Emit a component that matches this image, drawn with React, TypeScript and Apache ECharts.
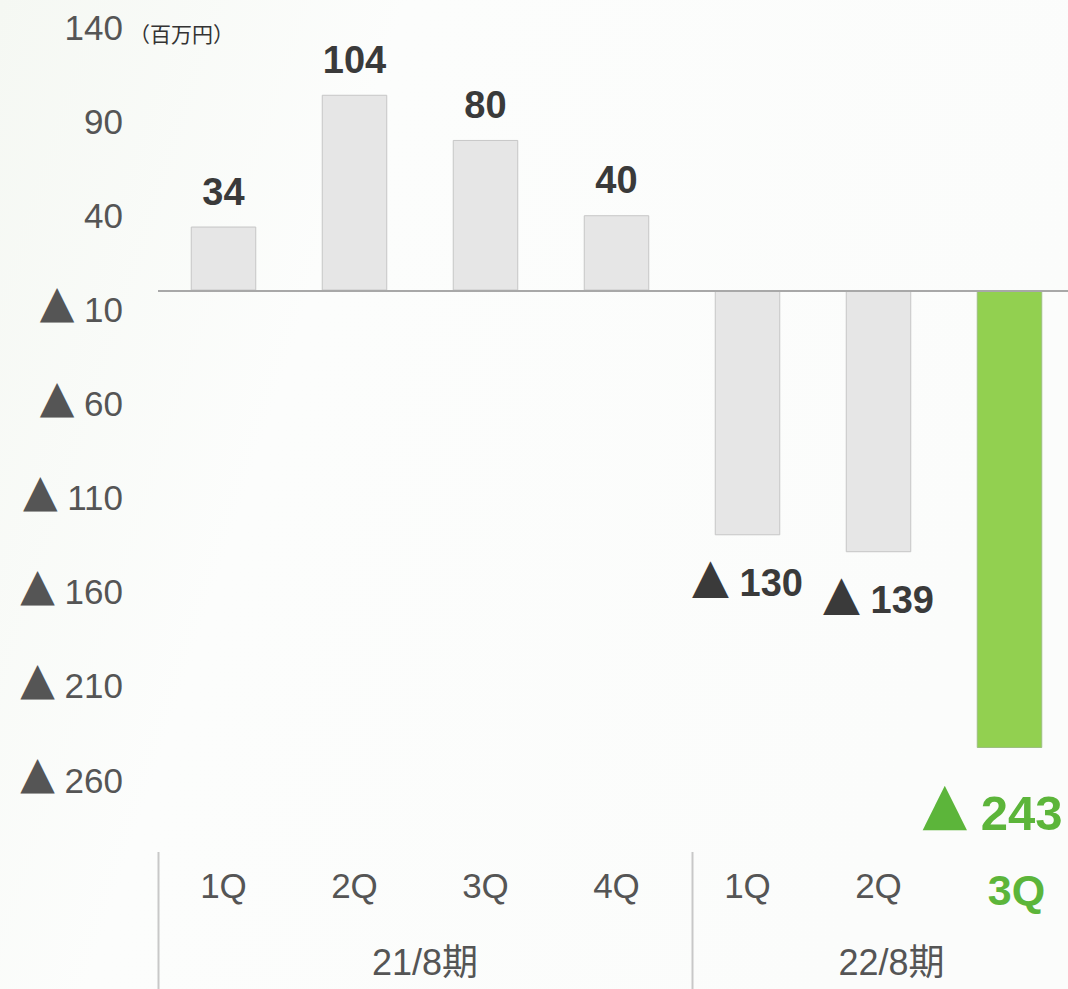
import React, { useEffect, useRef } from "react";
import * as echarts from "echarts";

const quarters = ["1Q", "2Q", "3Q", "4Q", "1Q", "2Q", "3Q"];
const values = [34, 104, 80, 40, -130, -139, -243];
const periods = ["21/8期", "22/8期"];
const periodStart = [0, 4];
const periodEnd = [3, 6];
const highlightIndex = 6;
const yMin = -260;
const yMax = 140;
const yInterval = 50;
const unitText = "（百万円）";

const FONT = "'Liberation Sans', Arial, Helvetica, sans-serif";
const TRI = "'DejaVu Sans', sans-serif";
const GREEN = "#5cb53a";

export default function App() {
  const ref = useRef<HTMLDivElement>(null);
  useEffect(() => {
    if (!ref.current) return;
    const chart = echarts.init(ref.current, null, { renderer: "svg" });
    const data = values.map((v, i) => {
      const hi = i === highlightIndex;
      const neg = v < 0;
      return {
        value: v,
        itemStyle: hi
          ? { color: "#92d050", borderColor: "#9cbf80", borderWidth: 1 }
          : { color: "#e6e6e6", borderColor: "#c6c6c6", borderWidth: 1 },
        label: {
          show: true,
          position: neg ? "bottom" : "top",
          distance: neg ? (hi ? 38 : 26) : 13,
          offset: hi ? [-17, 0] : [0, 0],
          formatter: neg
            ? `{${hi ? "gt" : "t"}|▲}{${hi ? "gn" : "n"}| ${Math.abs(v)}}`
            : `{n|${v}}`,
          rich: {
            t: { fontFamily: TRI, fontSize: 48, color: "#3a3a3a", verticalAlign: "middle", lineHeight: 44, padding: [0, 0, 16, 0] },
            n: { fontFamily: FONT, fontSize: 38, fontWeight: "bold", color: "#3a3a3a", verticalAlign: "middle", lineHeight: 44 },
            gt: { fontFamily: TRI, fontSize: 58, color: GREEN, verticalAlign: "middle", lineHeight: 54, padding: [0, 0, 20, 0] },
            gn: { fontFamily: FONT, fontSize: 49, fontWeight: "bold", color: GREEN, verticalAlign: "middle", lineHeight: 54 },
          },
        },
      };
    });
    chart.setOption({
      animation: false,
      backgroundColor: {
        type: "linear",
        x: 0,
        y: 0,
        x2: 1,
        y2: 0.3,
        colorStops: [
          { offset: 0, color: "#f5f8f3" },
          { offset: 0.35, color: "#fcfdfc" },
          { offset: 1, color: "#fbfcfb" },
        ],
      },
      grid: {
        left: 158,
        width: 917,
        top: 27,
        bottom: 209,
        containLabel: false,
        outerBoundsMode: "none",
      },
      xAxis: {
        type: "category",
        data: quarters,
        axisLine: { show: false },
        axisTick: { show: false },
        splitLine: { show: false },
        axisLabel: {
          margin: 88,
          formatter: (val: string, idx: number) =>
            idx === highlightIndex ? `{h|${val}}` : `{q|${val}}`,
          rich: {
            q: { fontFamily: FONT, fontSize: 35, color: "#555" },
            h: { fontFamily: FONT, fontSize: 43, fontWeight: "bold", color: GREEN, padding: [0, 0, 0, 14] },
          },
        },
      },
      yAxis: {
        type: "value",
        min: yMin,
        max: yMax,
        interval: yInterval,
        axisLine: { show: false },
        axisTick: { show: false },
        splitLine: { show: false },
        axisLabel: {
          margin: 35,
          formatter: (v: number) =>
            v < 0 ? `{t|▲}{n| ${Math.abs(v)}}` : `{n|${v}}`,
          rich: {
            t: { fontFamily: TRI, fontSize: 45, color: "#555", verticalAlign: "middle", lineHeight: 40, padding: [0, 0, 15, 0] },
            n: { fontFamily: FONT, fontSize: 35, color: "#555", verticalAlign: "middle", lineHeight: 40 },
          },
        },
      },
      series: [
        {
          type: "bar",
          data,
          barWidth: "50%",
          markLine: {
            silent: true,
            symbol: ["none", "none"],
            label: { show: false },
            lineStyle: { color: "#a8a8a8", width: 2, type: "solid" },
            data: [{ yAxis: 0 }],
          },
        },
      ],
    });

    const px = (i: number) => chart.convertToPixel({ xAxisIndex: 0 }, i) as number;
    const band = px(1) - px(0);
    const topY = chart.convertToPixel({ yAxisIndex: 0 }, yMax) as number;
    const textShift = [5, 13];
    const sepShift = [0, 10];
    const graphics: any[] = [];
    periods.forEach((p, k) => {
      const cx = (px(periodStart[k]) + px(periodEnd[k])) / 2 + textShift[k];
      graphics.push({
        type: "text",
        x: cx,
        y: 962,
        style: {
          text: p,
          fontFamily: "'Liberation Sans', 'Noto Sans CJK JP', sans-serif",
          fontSize: 36,
          fill: "#555",
          align: "center",
          verticalAlign: "middle",
        },
      });
      const sx = Math.round(px(periodStart[k]) - band / 2 + sepShift[k]) + 0.5;
      graphics.push({
        type: "line",
        shape: { x1: sx, y1: 852, x2: sx, y2: 989 },
        style: { stroke: "#c8c8c8", lineWidth: 2 },
      });
    });
    graphics.push({
      type: "text",
      x: 129,
      y: topY + 6,
      style: {
        text: unitText,
        fontFamily: "'Noto Sans CJK JP', sans-serif",
        fontSize: 21,
        fill: "#333",
        align: "left",
        verticalAlign: "middle",
      },
    });
    chart.setOption({ graphic: graphics });

    return () => chart.dispose();
  }, []);
  return (
    <div
      ref={ref}
      style={{ position: "absolute", left: 0, top: 0, width: 1068, height: 989 }}
    />
  );
}
